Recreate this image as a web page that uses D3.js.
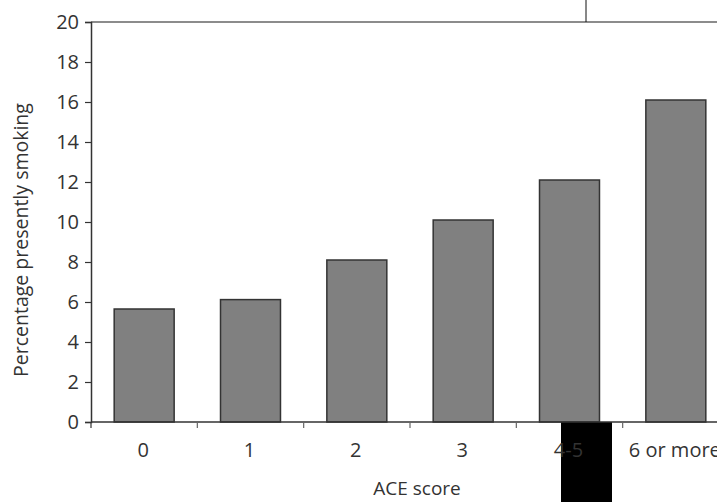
<!DOCTYPE html>
<html><head><meta charset="utf-8">
<script src="https://cdn.jsdelivr.net/npm/d3@7"></script>
<style>
html,body{margin:0;padding:0;background:#fff;overflow:hidden;}
text{font-family:"Open Sans","DejaVu Sans",sans-serif;fill:#333;}
</style></head>
<body><svg id="c" width="717" height="502"></svg>
<script>
const categories = ["0","1","2","3","4-5","6 or more"];
const values = [5.65, 6.12, 8.1, 10.1, 12.1, 16.1];
const yTicks = [0,2,4,6,8,10,12,14,16,18,20];
const xTitle = "ACE score";
const yTitle = "Percentage presently smoking";

const svg = d3.select("#c");
const mLeft = 91, mRight = 729, mTop = 22, mBottom = 422;
const x = d3.scaleBand().domain(categories).range([mLeft, mRight]).paddingInner(0.436).paddingOuter(0.218);
const y = d3.scaleLinear().domain([0,20]).range([mBottom, mTop]);

// bars
svg.append("g").selectAll("rect").data(values).join("rect")
  .attr("x", (d,i)=>x(categories[i]))
  .attr("y", d=>y(d))
  .attr("width", x.bandwidth())
  .attr("height", d=>y(0)-y(d))
  .attr("fill", "#808080")
  .attr("stroke", "#333")
  .attr("stroke-width", 1.5);

// top border line
svg.append("line").attr("x1", mLeft).attr("x2", 717).attr("y1", mTop).attr("y2", mTop)
  .attr("stroke", "#666").attr("stroke-width", 1.5);
// vertical line at top
svg.append("line").attr("x1", 586).attr("x2", 586).attr("y1", 0).attr("y2", mTop)
  .attr("stroke", "#111").attr("stroke-width", 1);

// black rectangle (artifact)
svg.append("rect").attr("x", 561).attr("y", mBottom).attr("width", 51).attr("height", 502-mBottom).attr("fill", "#000");

// y axis
const ya = svg.append("g").attr("transform", `translate(${mLeft},0)`)
  .call(d3.axisLeft(y).tickValues(yTicks).tickSize(6).tickPadding(6).tickFormat(d3.format("d")));
ya.select(".domain").attr("stroke", "#333").attr("stroke-width", 1.5);
ya.selectAll(".tick line").attr("stroke", "#333").attr("stroke-width", 1.2);
ya.selectAll("text").style("font-size", "20px").style("font-family", "'Open Sans', sans-serif").attr("fill", "#333");

// x axis
const boundaries = categories.map(c => x(c) - x.step()*x.paddingInner()/2).concat([mRight]);
svg.append("line").attr("x1", mLeft).attr("x2", 717).attr("y1", mBottom).attr("y2", mBottom)
  .attr("stroke", "#333").attr("stroke-width", 1.5);
svg.append("g").selectAll("line").data(boundaries).join("line")
  .attr("x1", d=>d).attr("x2", d=>d).attr("y1", mBottom).attr("y2", mBottom+6)
  .attr("stroke", (d,i)=> i===0 ? "#333" : "#666").attr("stroke-width", 1.2);
svg.append("g").selectAll("text").data(categories).join("text")
  .attr("x", d=>x(d)+x.bandwidth()/2 - 1)
  .attr("y", 457)
  .attr("text-anchor", "middle")
  .style("font-size", "20px")
  .text(d=>d);

// titles
svg.append("text").attr("x", 417).attr("y", 495).attr("text-anchor", "middle")
  .style("font-size", "19px").text(xTitle);
svg.append("text").attr("transform", "translate(28,240) rotate(-90)").attr("text-anchor", "middle")
  .style("font-size", "19.5px").text(yTitle);
</script></body></html>
